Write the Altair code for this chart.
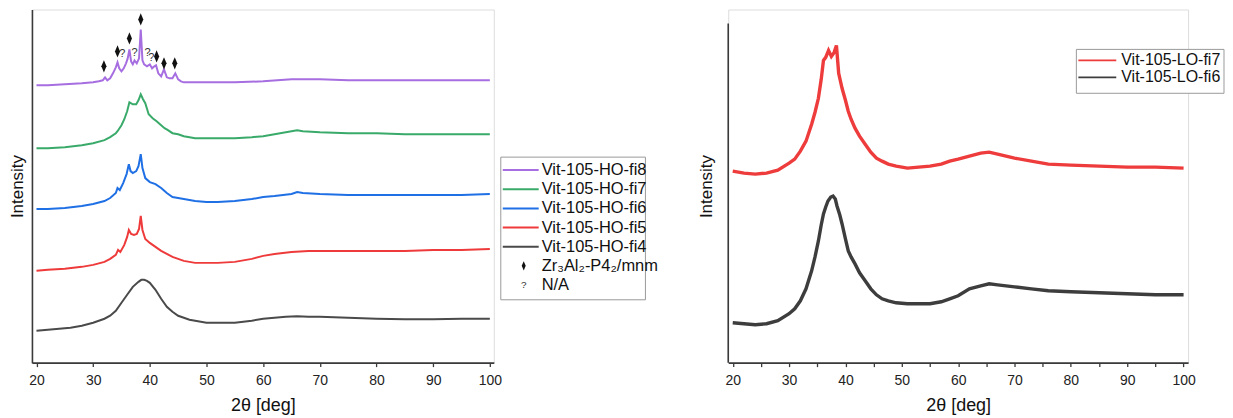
import altair as alt
import pandas as pd

FONT = "Liberation Sans"

# ---------------- left panel data (2theta, intensity a.u.) ----------------
ho_names = ["Vit-105-HO-fi8", "Vit-105-HO-fi7", "Vit-105-HO-fi6", "Vit-105-HO-fi5", "Vit-105-HO-fi4"]
ho_colors = ["#a66ee0", "#3aaa6a", "#1f6fe5", "#ee3a3a", "#4a4a4a"]

fi8_x = [20, 22, 25, 28, 30, 31, 31.7, 32.1, 32.5, 33, 33.5, 34, 34.3, 34.6, 35, 35.4, 35.8, 36.1, 36.4, 36.7,
         37, 37.3, 37.7, 38.1, 38.4, 38.7, 39, 39.5, 40, 40.4, 40.8, 41.1, 41.5, 42, 42.5, 43, 43.5, 44, 44.5, 45,
         45.5, 46, 48, 50, 55, 60, 65, 70, 75, 80, 85, 90, 95, 100]
fi8_y = [278, 278, 279, 280, 281, 282, 283, 286, 283, 285, 290, 296, 301, 295, 292, 295, 300, 305, 314, 302,
         299, 303, 300, 305, 334, 303, 299, 297, 299, 295, 297, 298, 290, 287, 294, 286, 285, 285, 290, 284,
         282, 281, 281, 281, 281, 282, 284, 284, 283, 283, 283, 283, 283, 283]

fi7_x = [20, 22, 25, 28, 30, 32, 33, 34, 34.3, 35, 35.5, 36, 36.4, 37, 37.6, 38, 38.4, 38.8, 39.2, 39.8,
         40.5, 41.2, 42, 42.6, 43.2, 44, 45, 46, 48, 50, 52, 55, 58, 60, 62, 65, 66, 67, 70, 75, 80, 85, 90, 95, 100]
fi7_y = [215, 215, 216, 218, 220, 223, 226, 230, 232, 238, 244, 252, 261, 259, 259, 263, 269, 264, 260, 249,
         245, 242, 238, 235, 233, 230, 229, 227, 225, 225, 225, 225, 226, 227, 229, 232, 233, 232, 231, 230,
         230, 229, 229, 229, 229]

fi6_x = [20, 22, 25, 28, 30, 32, 33, 34, 34.3, 34.7, 35.3, 35.9, 36.3, 36.6, 37, 37.6, 38, 38.4, 38.7, 39.2,
         40, 41, 42, 42.4, 43, 44, 45, 46, 48, 50, 52, 55, 58, 60, 62, 65, 66, 67, 70, 75, 80, 85, 90, 95, 100]
fi6_y = [154, 154, 155, 157, 159, 162, 165, 170, 175, 173, 180, 189, 199, 192, 190, 192, 197, 209, 195, 185,
         181, 179, 175, 173, 170, 166, 165, 164, 162, 161, 161, 162, 164, 166, 167, 169, 171, 170, 169, 168,
         168, 168, 168, 168, 169]

fi5_x = [20, 22, 25, 28, 30, 32, 33, 34, 34.4, 34.8, 35.5, 36, 36.3, 36.7, 37.2, 37.7, 38.1, 38.4, 38.7, 39.2,
         40, 41, 42, 43, 44, 45, 46, 48, 50, 52, 55, 58, 60, 62, 65, 68, 70, 75, 80, 85, 90, 95, 100]
fi5_y = [92, 93, 94, 96, 98, 101, 104, 108, 113, 111, 118, 126, 133, 129, 128, 129, 134, 147, 133, 124,
         120, 116, 112, 109, 106, 104, 102, 100, 100, 100, 101, 104, 107, 109, 111, 112, 112, 112, 112, 112,
         113, 113, 114]

fi4_x = [20, 22, 24, 26, 28, 30, 31, 32, 33, 34, 35, 36, 37, 38, 38.5, 39, 39.5, 40, 41, 42, 43, 44, 45, 46,
         47, 48, 50, 52, 55, 58, 60, 62, 64, 66, 68, 70, 75, 80, 85, 90, 95, 100]
fi4_y = [32, 33, 34, 35, 37, 40, 42, 44, 47, 52, 60, 68, 76, 81, 83, 83, 82, 80, 73, 64, 56, 51, 47, 45,
         43, 42, 40, 40, 40, 42, 44, 45, 46, 46.5, 46, 46, 45, 44, 43.5, 43.5, 44, 44]

# phase markers
diamond_x = [31.9, 34.3, 36.4, 38.4, 41.2, 42.5, 44.4]
diamond_y = [297, 312, 325, 344, 307, 300, 300]
unknown_x = [35.15, 37.3, 39.6, 40.25]
unknown_y = [309, 310, 310, 305]

legend_extra = ["Zr₃Al₂-P4₂/mnm", "N/A"]

# ---------------- right panel data ----------------
lo_names = ["Vit-105-LO-fi7", "Vit-105-LO-fi6"]
lo_colors = ["#ee3b3b", "#3d3d3d"]

lo7_x = [20, 22, 24, 26, 28, 30, 31, 32, 33, 34, 34.6, 35.2, 35.7, 36.1, 36.5, 37, 37.5, 38, 38.4, 38.8,
         39.4, 40, 40.5, 41, 41.7, 42.5, 43.5, 44.5, 45.5, 46.5, 47.6, 49, 51, 53, 55, 57, 58.5, 60, 62, 64,
         65.5, 67, 70, 73, 76, 80, 85, 90, 95, 100]
lo7_y = [192, 190, 189, 190, 193, 200, 204, 212, 222, 239, 251, 265, 284, 303, 306, 313, 307, 311, 318, 290,
         275, 263, 252, 244, 235, 227, 219, 211, 205, 202, 199, 197, 195, 196, 197, 199, 202, 204, 207, 210,
         211, 209, 205, 202, 199, 198, 197, 196, 196, 195]

lo6_x = [20, 22, 24, 26, 28, 30, 31, 32, 33, 34, 34.6, 35.2, 35.7, 36.1, 36.5, 36.9, 37.4, 37.8, 38.2, 38.5,
         39, 39.4, 40, 40.5, 41, 41.7, 42.5, 43.5, 44.5, 45.5, 46.5, 47.6, 49, 51, 53, 55, 57, 58.5, 60, 62,
         64, 65.5, 67, 70, 73, 76, 80, 85, 90, 95, 100]
lo6_y = [40, 39, 38, 39, 42, 49, 54, 62, 74, 92, 106, 122, 138, 149, 156, 162, 166, 167, 164, 157,
         148, 139, 124, 112, 106, 99, 90, 82, 74, 68, 64, 62, 60, 59, 59, 59, 61, 64, 67, 74,
         77, 79, 78, 76, 74, 72, 71, 70, 69, 68, 68]

x_ticks = list(range(20, 101, 5))

# ---------------- build tables ----------------
def long_table(names, pairs):
    rows = []
    for name, (xs, ys) in zip(names, pairs):
        for a, b in zip(xs, ys):
            rows.append({"series": name, "x": a, "y": b})
    return pd.DataFrame(rows)

ho_df = long_table(ho_names, [(fi8_x, fi8_y), (fi7_x, fi7_y), (fi6_x, fi6_y), (fi5_x, fi5_y), (fi4_x, fi4_y)])
lo_df = long_table(lo_names, [(lo7_x, lo7_y), (lo6_x, lo6_y)])
dia_df = pd.DataFrame({"x": diamond_x, "y": diamond_y})
unk_df = pd.DataFrame({"x": unknown_x, "y": unknown_y})
one = pd.DataFrame({"a": [0]})

WL = 463
WR = 461
H = 354
AXIS_COLOR = "#3a3a3a"
DIAMOND = "M0,-1L0.42,0L0,1L-0.42,0Z"
LEG_FS = 16.5

def x_axis():
    return alt.Axis(values=x_ticks, labelExpr="datum.value % 10 == 0 ? datum.label : ''",
                    title="2θ [deg]", titleFontSize=18, titleFont=FONT, titleFontWeight="normal",
                    titleColor="#111", titlePadding=9, labelFont=FONT, labelFontSize=14, labelColor="#222",
                    labelPadding=7, tickSize=4, tickColor=AXIS_COLOR, tickWidth=1.3,
                    domainColor=AXIS_COLOR, domainWidth=1.6, grid=False, labelFlush=False)

def y_axis(pad, domain=True):
    return alt.Axis(title="Intensity", labels=False, ticks=False, grid=False, domain=domain,
                    domainColor=AXIS_COLOR, domainWidth=1.6, titleFont=FONT, titleFontSize=17,
                    titleFontWeight="normal", titleColor="#111", titlePadding=pad)

def text_at(label, x, y, size, color="#111"):
    return alt.Chart(one).mark_text(text=label, align="left", baseline="middle", font=FONT,
                                    fontSize=size, color=color).encode(x=alt.value(x), y=alt.value(y))

def rule_at(x1, x2, y, color, width=2):
    return alt.Chart(one).mark_rule(color=color, strokeWidth=width).encode(
        x=alt.value(x1), x2=alt.value(x2), y=alt.value(y))

def box_at(x1, x2, y1, y2):
    return alt.Chart(one).mark_rect(fill="white", stroke="#9a9a9a", strokeWidth=1).encode(
        x=alt.value(x1), x2=alt.value(x2), y=alt.value(y1), y2=alt.value(y2))

# ---------------- left panel ----------------
xs_left = alt.Scale(domain=[19.2, 100.7], nice=False, zero=False)
ys = alt.Scale(domain=[0, H], nice=False, zero=False)

left_lines = alt.Chart(ho_df).mark_line(strokeWidth=2, interpolate="linear").encode(
    x=alt.X("x:Q", scale=xs_left, axis=x_axis()),
    y=alt.Y("y:Q", scale=ys, axis=y_axis(5)),
    color=alt.Color("series:N", scale=alt.Scale(domain=ho_names, range=ho_colors), legend=None),
    detail="series:N",
)
left_dia = alt.Chart(dia_df).mark_point(shape=DIAMOND, filled=True, color="#111", size=150, opacity=1).encode(
    x=alt.X("x:Q", scale=xs_left), y=alt.Y("y:Q", scale=ys))
left_unk = alt.Chart(unk_df).mark_text(text="?", font=FONT, fontSize=11, color="#333", baseline="middle").encode(
    x=alt.X("x:Q", scale=xs_left), y=alt.Y("y:Q", scale=ys))

# legend (pixel layout relative to plot area)
lg_layers = [box_at(470, 615, 148, 291)]
row0, step = 161, 19.2
for i, (nm, col) in enumerate(zip(ho_names, ho_colors)):
    yy = row0 + i * step
    lg_layers.append(rule_at(472, 508, yy, col, 2))
    lg_layers.append(text_at(nm, 511, yy, LEG_FS))
yy = row0 + 5 * step
lg_layers.append(alt.Chart(one).mark_point(shape=DIAMOND, filled=True, color="#111", size=90, opacity=1).encode(
    x=alt.value(493), y=alt.value(yy)))
lg_layers.append(text_at(legend_extra[0], 511, yy, LEG_FS))
yy = row0 + 6 * step
lg_layers.append(alt.Chart(one).mark_text(text="?", font=FONT, fontSize=10, color="#333").encode(
    x=alt.value(493), y=alt.value(yy)))
lg_layers.append(text_at(legend_extra[1], 511, yy, LEG_FS))

left = alt.layer(left_lines, left_dia, left_unk, *lg_layers).properties(width=WL, height=H)

# ---------------- right panel ----------------
xs_right = alt.Scale(domain=[19.2, 100.8], nice=False, zero=False)

right_lines = alt.Chart(lo_df).mark_line(strokeWidth=3.4, interpolate="linear").encode(
    x=alt.X("x:Q", scale=xs_right, axis=x_axis()),
    y=alt.Y("y:Q", scale=ys, axis=y_axis(13, domain=False)),
    color=alt.Color("series:N", scale=alt.Scale(domain=lo_names, range=lo_colors), legend=None),
    detail="series:N",
)
right_axis_line = alt.Chart(one).mark_rule(color=AXIS_COLOR, strokeWidth=1.6).encode(
    x=alt.value(0), y=alt.value(14), y2=alt.value(H))

r_layers = [box_at(349, 497, 40, 84)]
for i, (nm, col) in enumerate(zip(lo_names, lo_colors)):
    yy = 51 + i * 17
    r_layers.append(rule_at(351, 389, yy, col, 1.6))
    r_layers.append(text_at(nm, 394, yy, 16))

right = alt.layer(right_lines, right_axis_line, *r_layers).properties(width=WR, height=H)

chart = alt.hconcat(left, right, spacing=37).resolve_scale(color="independent", x="independent").properties(
    padding={"left": 0, "top": 0, "right": 0, "bottom": 0}
).configure_view(stroke=None).configure(font=FONT)

chart.save("out.html", embed_options={"renderer": "svg", "actions": False})
